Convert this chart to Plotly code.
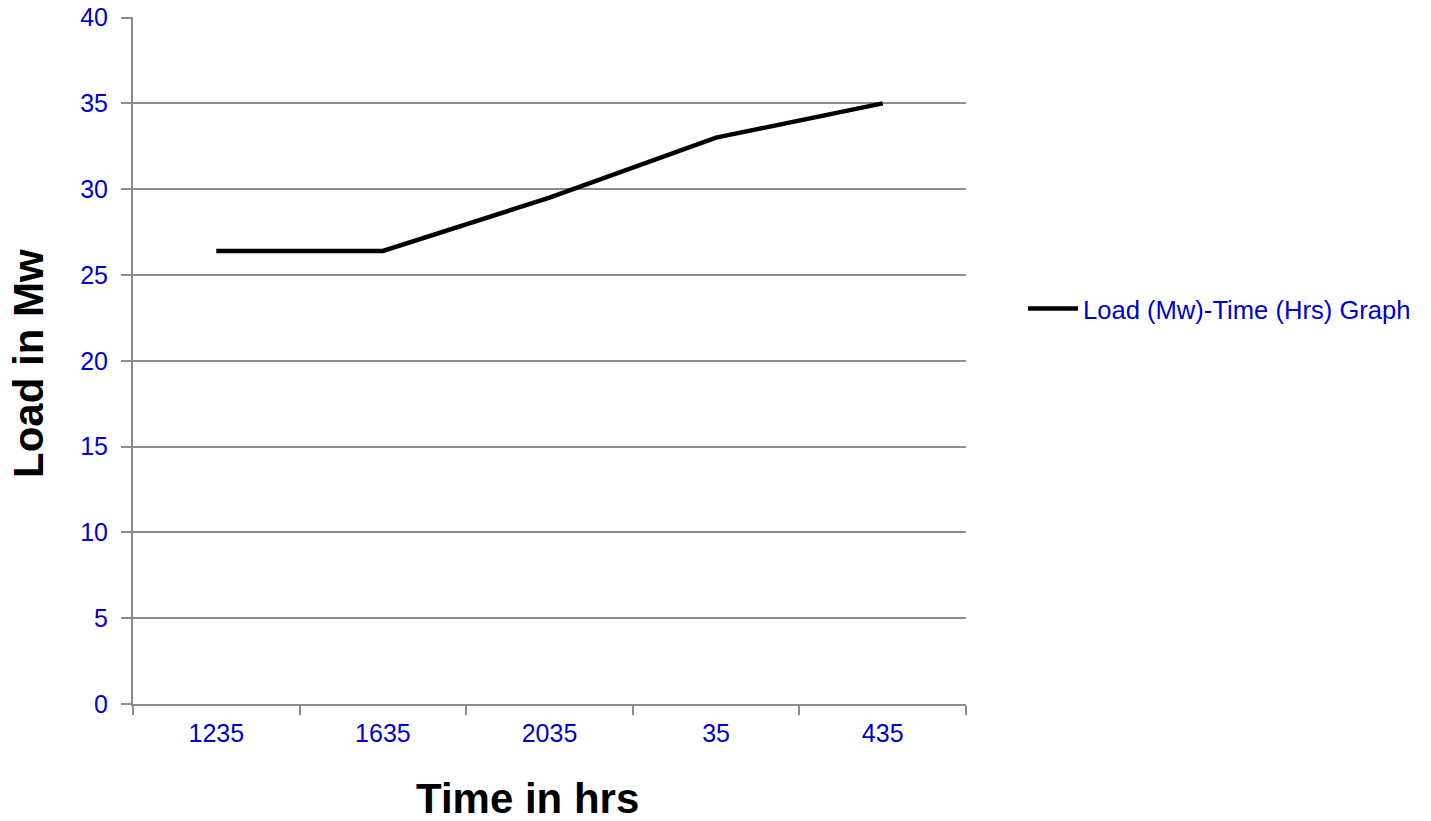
import plotly.graph_objects as go

categories = ["1235", "1635", "2035", "35", "435"]
load_mw = [26.4, 26.4, 29.5, 33.0, 35.0]
series_name = "Load (Mw)-Time (Hrs) Graph"
x_title = "Time in hrs"
y_title = "Load in Mw"

W, H = 1431, 821
L, R, T, B = 133, 966, 17, 704
PW, PH = R - L, B - T

fig = go.Figure()
fig.add_trace(go.Scatter(x=categories, y=load_mw, mode="lines", name=series_name,
                         line=dict(color="black", width=4.5)))

blue = "#0000CC"
grey = "#8c8c8c"
fig.update_layout(
    width=W, height=H,
    margin=dict(l=L, r=W - R, t=T, b=H - B),
    paper_bgcolor="white", plot_bgcolor="white",
    font=dict(family="Liberation Sans, Arial, sans-serif", color=blue, size=25),
    showlegend=True,
    legend=dict(x=1.0684, y=0.575, xanchor="left", yanchor="middle", itemwidth=50,
                font=dict(size=25.6, color=blue), bgcolor="rgba(0,0,0,0)"),
    xaxis=dict(type="category", range=[-0.5, 4.5], showgrid=False, automargin=False,
               showline=True, linecolor=grey, linewidth=2,
               ticks="outside", tickson="boundaries", ticklen=9, tickcolor=grey, tickwidth=1.5,
               tickfont=dict(size=25, color=blue), ticklabelstandoff=6),
    yaxis=dict(range=[0, 40.03], tickvals=[0, 5, 10, 15, 20, 25, 30, 35, 40],
               showgrid=True, gridcolor=grey, gridwidth=1.5,
               zeroline=False, showline=True, linecolor=grey, linewidth=2, automargin=False,
               ticks="outside", ticklen=10, tickcolor=grey, tickwidth=1.5,
               ticklabeloverflow="allow",
               tickfont=dict(size=25, color=blue), ticklabelstandoff=8),
    annotations=[
        dict(text="<b>" + x_title + "</b>", xref="paper", yref="paper",
             x=(527 - L) / PW, y=(B - 798) / PH, xanchor="center", yanchor="middle",
             showarrow=False, font=dict(size=42, color="black")),
        dict(text="<b>" + y_title + "</b>", xref="paper", yref="paper",
             x=(28 - L) / PW, y=(B - 364) / PH, xanchor="center", yanchor="middle",
             textangle=-90, showarrow=False, font=dict(size=42, color="black")),
    ],
)

fig.write_html("out.html", config={"displayModeBar": False},
               post_script="document.body.style.margin='0';")
